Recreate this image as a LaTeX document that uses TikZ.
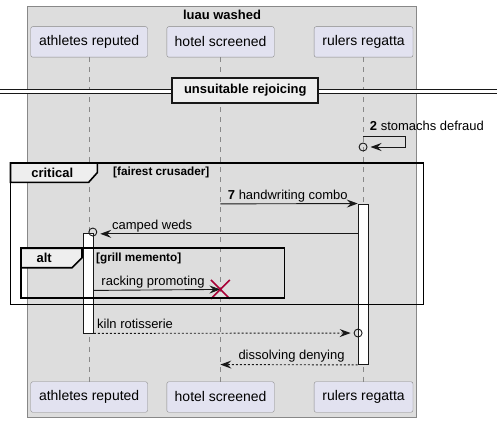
\documentclass[tikz,border=0pt]{standalone}
\usepackage{fontspec}
\setmainfont{Liberation Sans}
\usetikzlibrary{arrows.meta,calc}
\definecolor{boxbg}{HTML}{DDDDDD}
\definecolor{boxline}{HTML}{888888}
\definecolor{partbg}{HTML}{E2E2F0}
\definecolor{tabbg}{HTML}{EEEEEE}
\definecolor{ink}{HTML}{181818}
\definecolor{killred}{HTML}{A80036}
\begin{document}
\begin{tikzpicture}[x=1pt,y=-1pt]
    \tikzstyle{every node}=[inner sep=0pt, text=black]
    \tikzstyle{part}=[draw=boxline, fill=partbg, rounded corners=2pt, minimum height=30.6pt, font=\fontsize{14}{16}\selectfont]
    \tikzstyle{life}=[boxline, dash pattern=on 5pt off 5pt, line width=0.7pt]
    \tikzstyle{msg}=[ink, line width=0.9pt, -{Stealth[length=11pt,width=8pt,inset=4pt]}]
    \tikzstyle{reply}=[msg, dash pattern=on 2pt off 2pt]
    \tikzstyle{lbl}=[anchor=base west, font=\fontsize{13}{15}\selectfont]
    \tikzstyle{ring}=[circle, draw=ink, line width=0.9pt, minimum size=8pt]
    \tikzstyle{act}=[draw=ink, fill=white, line width=0.7pt]
    \tikzstyle{frame}=[black, line width=1.6pt]
    \tikzstyle{cond}=[anchor=west, font=\bfseries\fontsize{11.8}{13}\selectfont]

    \fill[white] (0,0) rectangle (497,423);

    % the box round the participants
    \draw[boxline, fill=boxbg] (27,6) rectangle (417,418);
    \node[font=\bfseries\fontsize{13}{15}\selectfont] (title) at (222,15) {luau washed};

    \node[part, minimum width=117pt] (ath) at (88.8,42) {athletes reputed};
    \node[part, minimum width=107.6pt] (hot) at (220.5,42) {hotel screened};
    \node[part, minimum width=99pt] (rul) at (363.8,42) {rulers regatta};
    \node[part, minimum width=117pt] (athB) at (88.8,397.8) {athletes reputed};
    \node[part, minimum width=107.6pt] (hotB) at (220.5,397.8) {hotel screened};
    \node[part, minimum width=99pt] (rulB) at (363.8,397.8) {rulers regatta};

    \draw[life] (ath) -- (athB);
    \draw[life] (hot) -- (hotB);
    \draw[life] (rul) -- (rulB);

    % divider
    \coordinate (dl) at (0,91.3);
    \coordinate (dr) at (497,91.3);
    \fill[white] (0,89.3) rectangle (497,93.3);
    \draw[ink, line width=1pt] (0,89.3) -- (497,89.3) (0,93.3) -- (497,93.3);
    \node[draw=ink, line width=2pt, fill=tabbg, minimum width=146pt, minimum height=25.6pt, font=\bfseries\fontsize{13}{15}\selectfont] (div) at (245.3,90.5) {unsuitable rejoicing};

    % self message
    \coordinate (s2) at (363.3,136.3);
    \coordinate (s2a) at (405.7,136.3);
    \coordinate (s2b) at (405.7,147.3);
    \node[ring] (r2) at (363.3,147.3) {};
    \draw[msg, shorten >=3pt] (s2) -- (s2a) -- (s2b) -- (r2.east);
    \node[lbl] (t2) at (370,131) {\textbf{2} stomachs defraud};

    % activations
    \node[act, minimum width=10pt, minimum height=161pt] (actR) at (363.3,284.8) {};
    \node[act, minimum width=10pt, minimum height=99.4pt] (actA) at (88.3,284) {};

    % critical block
    \coordinate (m7) at (220.3,204.3);
    \draw[msg] (m7) -- (actR.north west);
    \node[lbl] (t7) at (227.7,199.5) {\textbf{7} handwriting combo};

    \coordinate (m8) at (358.3,234.3);
    \node[ring] (r8) at (92.5,232.5) {};
    \draw[msg, shorten >=3pt] (m8) -- (r8.east |- m8);
    \node[lbl] (t8) at (111.7,229.5) {camped weds};

    \coordinate (m9) at (93.3,291);
    \coordinate (kill) at (220.3,290);
    \draw[msg] (m9) -- (kill);
    \node[lbl] (t9) at (101,286) {racking promoting};
    \draw[killred, line width=1.6pt] ($(kill)+(-9.5,-9.5)$) -- ($(kill)+(9.5,9.5)$) ($(kill)+(-9.5,9.5)$) -- ($(kill)+(9.5,-9.5)$);

    \node[ring] (r10) at (358.3,333.7) {};
    \draw[reply, shorten >=3pt] (actA.south east) -- (r10.west);
    \node[lbl] (t10) at (96.7,328.7) {kiln rotisserie};

    \coordinate (m11) at (220.3,365.3);
    \draw[reply] (actR.south west) -- (m11);
    \node[lbl] (t11) at (238.3,360.3) {dissolving denying};

    % frames
    \draw[frame] (10,163.3) rectangle (424,305.3);
    \draw[frame, fill=tabbg] (10,163.3) -- (97,163.3) -- (97,173) -- (88.3,182.7) -- (10,182.7) -- cycle;
    \node[anchor=west, font=\bfseries\fontsize{13}{15}\selectfont] (crit) at (30.7,173) {critical};
    \node[cond] (c1) at (112.7,173.3) {[fairest crusader]};

    \draw[frame] (20.7,248.7) rectangle (284.7,298.3);
    \draw[frame, fill=tabbg] (20.7,248.7) -- (81.7,248.7) -- (81.7,258.3) -- (71.7,268.3) -- (20.7,268.3) -- cycle;
    \node[anchor=west, font=\bfseries\fontsize{13}{15}\selectfont] (alt) at (36,258.5) {alt};
    \node[cond] (c2) at (95.7,258.7) {[grill memento]};
\end{tikzpicture}
\end{document}
